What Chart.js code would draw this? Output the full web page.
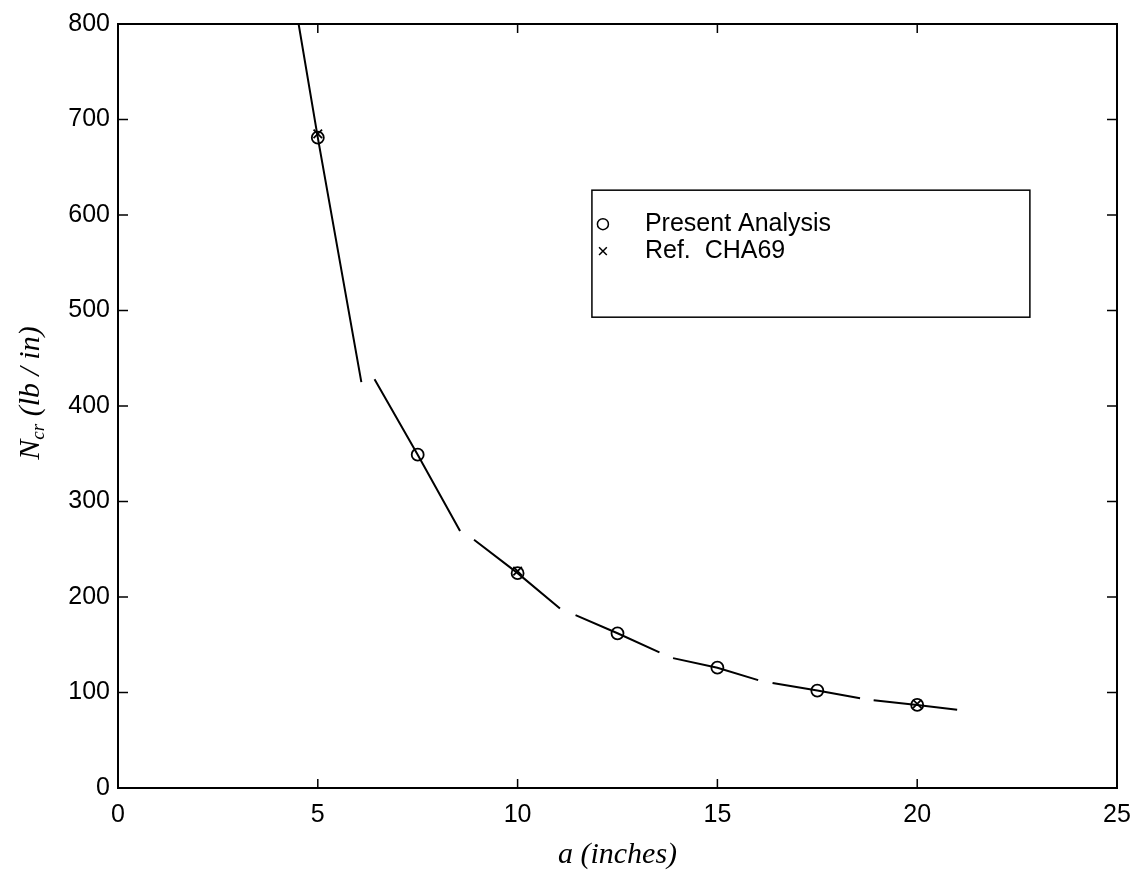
<!DOCTYPE html>
<html>
<head>
<meta charset="utf-8">
<script src="https://cdn.jsdelivr.net/npm/chart.js@4.4.1/dist/chart.umd.min.js"></script>
<style>
  html, body { margin: 0; padding: 0; background: #fff; }
  #wrap { width: 1133px; height: 876px; }
</style>
</head>
<body>
<div id="wrap"><canvas id="c"></canvas></div>
<script>
// valores
const curvaX = [4.52, 5.0, 6.09, null, 6.42, 7.5, 8.56, null, 8.91, 10.0, 11.06, null, 11.45, 12.5, 13.55, null, 13.89, 15.0, 16.02, null, 16.38, 17.5, 18.57, null, 18.91, 20.0, 21.0];
const curvaY = [800, 681, 425, null, 428, 349, 269, null, 260, 225, 188, null, 181, 162, 142, null, 136, 126, 113, null, 110, 102, 94, null, 92, 87, 82];

const analisisX = [5, 7.5, 10, 12.5, 15, 17.5, 20];
const analisisY = [681, 349, 225, 162, 126, 102, 87];

const refX = [5, 10, 20];
const refY = [685, 227, 88];

const ticksX = [0, 5, 10, 15, 20, 25];
const ticksY = [0, 100, 200, 300, 400, 500, 600, 700, 800];

const fuenteTicks = '"Liberation Sans", Arial, sans-serif';
const fuenteTitulo = '"Liberation Serif", "Times New Roman", serif';

const puntos = (xs, ys) => xs.map((x, i) => (x === null ? { x: NaN, y: NaN } : { x, y: ys[i] }));

// marco y ticks hacia dentro en los cuatro lados
const marcoPlugin = {
    id: 'marco',
    afterDatasetsDraw(chart) {
        const { ctx, chartArea: a, scales: { x, y } } = chart;
        ctx.save();
        ctx.strokeStyle = '#000';
        ctx.lineWidth = 2;
        ctx.strokeRect(a.left, a.top, a.right - a.left, a.bottom - a.top);
        ctx.lineWidth = 1.5;
        ctx.beginPath();
        ticksX.forEach(v => {
            const px = x.getPixelForValue(v);
            ctx.moveTo(px, a.bottom); ctx.lineTo(px, a.bottom - 9);
            ctx.moveTo(px, a.top); ctx.lineTo(px, a.top + 9);
        });
        ticksY.forEach(v => {
            const py = y.getPixelForValue(v);
            ctx.moveTo(a.left, py); ctx.lineTo(a.left + 10, py);
            ctx.moveTo(a.right, py); ctx.lineTo(a.right - 10, py);
        });
        ctx.stroke();

        // titulo eje y con subindice
        ctx.fillStyle = '#000';
        ctx.translate(31, 393);
        ctx.rotate(-Math.PI / 2);
        ctx.textBaseline = 'middle';
        const partes = [['N', 30, 0], ['cr', 19, 8], [' (', 30, 0], ['lb', 30, 0], [' / ', 30, 0], ['in', 30, 0], [')', 30, 0]];
        let ancho = 0;
        partes.forEach(p => { ctx.font = 'italic ' + p[1] + 'px ' + fuenteTitulo; ancho += ctx.measureText(p[0]).width; });
        let cx = -ancho / 2;
        partes.forEach(p => {
            ctx.font = 'italic ' + p[1] + 'px ' + fuenteTitulo;
            ctx.fillText(p[0], cx, p[2]);
            cx += ctx.measureText(p[0]).width;
        });
        ctx.restore();
    }
};

// leyenda dentro del area
const leyendaPlugin = {
    id: 'leyendaDentro',
    afterDraw(chart) {
        const { ctx, scales: { x, y } } = chart;
        const x0 = x.getPixelForValue(11.86), x1 = x.getPixelForValue(22.82);
        const y0 = y.getPixelForValue(626), y1 = y.getPixelForValue(493);
        ctx.save();
        ctx.strokeStyle = '#000';
        ctx.lineWidth = 1.5;
        ctx.strokeRect(x0, y0, x1 - x0, y1 - y0);
        ctx.textBaseline = 'middle';
        const items = chart.data.datasets.filter(d => d.enLeyenda);
        items.forEach((d, i) => {
            const py = y0 + 34 + i * 27;
            ctx.fillStyle = 'rgba(0,0,0,0)';
            Chart.helpers.drawPoint(ctx, { pointStyle: d.pointStyle, radius: 5.5, borderWidth: 1.5 }, x0 + 11, py);
            ctx.fillStyle = '#000';
            ctx.font = '25px ' + fuenteTicks;
            ctx.fillText(d.label, x0 + 53, py);
        });
        ctx.restore();
    }
};

new Chart(document.getElementById('c').getContext('2d'), {
    type: 'scatter',
    data: {
        datasets: [
            { label: 'curva', data: puntos(curvaX, curvaY), showLine: true, spanGaps: false, borderColor: '#000', borderWidth: 2, pointRadius: 0, fill: false },
            { label: 'Present Analysis', enLeyenda: true, data: puntos(analisisX, analisisY), pointStyle: 'circle', radius: 6, borderColor: '#000', backgroundColor: 'rgba(0,0,0,0)', borderWidth: 1.8 },
            { label: 'Ref.  CHA69', enLeyenda: true, data: puntos(refX, refY), pointStyle: 'crossRot', radius: 6, borderColor: '#000', backgroundColor: '#000', borderWidth: 1.8 }
        ]
    },
    options: {
        responsive: true,
        maintainAspectRatio: false,
        animation: false,
        plugins: { legend: { display: false }, tooltip: { enabled: false } },
        layout: { padding: { left: 0, right: 0, top: 24, bottom: 0 } },
        scales: {
            x: {
                type: 'linear', min: 0, max: 25,
                grid: { display: false, drawTicks: false },
                border: { display: false },
                afterBuildTicks: s => { s.ticks = ticksX.map(v => ({ value: v })); },
                ticks: { color: '#000', font: { family: fuenteTicks, size: 25 }, padding: 12, maxRotation: 0 },
                title: { display: true, text: 'a (inches)', color: '#000', font: { family: fuenteTitulo, size: 30, style: 'italic' }, padding: { top: 0, bottom: 3 } },
                afterFit: s => { s.height = 88; s.paddingRight = 16; s.paddingLeft = 0; }
            },
            y: {
                type: 'linear', min: 0, max: 800,
                grid: { display: false, drawTicks: false },
                border: { display: false },
                afterBuildTicks: s => { s.ticks = ticksY.map(v => ({ value: v })); },
                ticks: { color: '#000', font: { family: fuenteTicks, size: 25 }, padding: 8 },
                afterFit: s => { s.width = 118; }
            }
        }
    },
    plugins: [marcoPlugin, leyendaPlugin]
});
</script>
</body>
</html>
